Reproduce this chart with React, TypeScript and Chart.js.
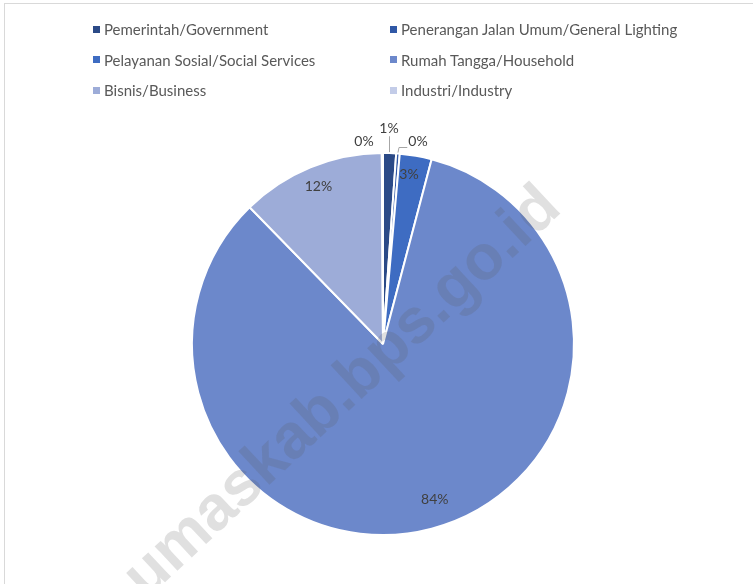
import React, { useEffect, useRef } from "react";
import { Chart, registerables } from "chart.js";

Chart.register(...registerables);

const categories = [
  "Pemerintah/Government",
  "Penerangan Jalan Umum/General Lighting",
  "Pelayanan Sosial/Social Services",
  "Rumah Tangga/Household",
  "Bisnis/Business",
  "Industri/Industry",
];
const shares = [1.1, 0.3, 2.7, 83.6, 12.2, 0.1];
const shareLabels = ["1%", "0%", "3%", "84%", "12%", "0%"];
const sliceColors = ["#2b4a87", "#3058a6", "#3e6cc2", "#6c88cb", "#9dacd8", "#c3cce8"];
const watermarkText = "umaskab.bps.go.id";

// label placement: radius factor, angle shift (deg), leader type
const labelRadius = [1.13, 1.075, 0.9, 0.86, 0.89, 1.065];
const labelShift = [-0.4, 5.3, -1.2, -3.6, 0, -5.2];
const labelLeader = ["v", "elbow", "", "", "", ""];

const FONT = "Lato, 'Open Sans', sans-serif";

const labelPlugin = {
  id: "sliceLabels",
  afterDatasetsDraw(chart: any) {
    const ctx = chart.ctx;
    const meta = chart.getDatasetMeta(0);
    ctx.save();
    ctx.font = `14px ${FONT}`;
    ctx.textAlign = "center";
    ctx.textBaseline = "middle";
    meta.data.forEach((arc: any, i: number) => {
      const p = arc.getProps(["x", "y", "startAngle", "endAngle", "outerRadius"], true);
      const mid = (p.startAngle + p.endAngle) / 2;
      const a = mid + (labelShift[i] * Math.PI) / 180;
      const r = p.outerRadius * labelRadius[i];
      const lx = p.x + Math.cos(a) * r;
      const ly = p.y + Math.sin(a) * r;
      const ex = p.x + Math.cos(mid) * p.outerRadius;
      const ey = p.y + Math.sin(mid) * p.outerRadius;
      const w = ctx.measureText(shareLabels[i]).width;
      ctx.strokeStyle = "#a6a6a6";
      ctx.lineWidth = 1;
      if (labelLeader[i] === "v") {
        ctx.beginPath();
        ctx.moveTo(Math.round(lx) + 0.5, ey - 1);
        ctx.lineTo(Math.round(lx) + 0.5, ly + 8);
        ctx.stroke();
      } else if (labelLeader[i] === "elbow") {
        ctx.beginPath();
        ctx.moveTo(ex, ey - 1);
        ctx.lineTo(ex + 1, Math.round(ly + 5) + 0.5);
        ctx.lineTo(lx - w / 2 - 1, Math.round(ly + 5) + 0.5);
        ctx.stroke();
      }
      ctx.fillStyle = "#404040";
      ctx.fillText(shareLabels[i], lx, ly);
    });
    ctx.restore();
  },
};

const watermarkPlugin = {
  id: "watermark",
  afterDraw(chart: any) {
    const ctx = chart.ctx;
    ctx.save();
    ctx.translate(146, 600);
    ctx.rotate((-43 * Math.PI) / 180);
    ctx.font = `bold 63px 'Liberation Sans', Arial, sans-serif`;
    ctx.fillStyle = "rgba(90,90,90,0.19)";
    ctx.textBaseline = "alphabetic";
    ctx.fillText(watermarkText, 0, 0);
    ctx.restore();
  },
};

export default function App() {
  const canvasRef = useRef<HTMLCanvasElement | null>(null);

  useEffect(() => {
    document.body.style.margin = "0";
    const canvas = canvasRef.current;
    if (!canvas) return;
    const chart = new Chart(canvas, {
      type: "pie",
      data: {
        labels: categories,
        datasets: [
          {
            data: shares,
            backgroundColor: sliceColors,
            borderColor: "#ffffff",
            borderWidth: 2,
          },
        ],
      },
      options: {
        responsive: false,
        animation: false,
        devicePixelRatio: 1,
        layout: { padding: { top: 152, bottom: 48, left: 13, right: 0 } },
        plugins: {
          legend: { display: false },
          tooltip: { enabled: false },
        },
      },
      plugins: [labelPlugin, watermarkPlugin],
    });
    return () => chart.destroy();
  }, []);

  return (
    <div style={{ position: "relative", width: 753, height: 584, overflow: "hidden", background: "#fff" }}>
      <canvas ref={canvasRef} width={753} height={584} style={{ position: "absolute", left: 0, top: 0 }} />
      <div
        style={{
          position: "absolute",
          left: 4,
          top: 3,
          right: -10,
          bottom: -10,
          borderLeft: "1px solid #d9d9d9",
          borderTop: "1px solid #d9d9d9",
          pointerEvents: "none",
        }}
      />
      <div
        style={{
          position: "absolute",
          left: 93,
          top: 14,
          display: "grid",
          gridTemplateColumns: "297px 300px",
          gridAutoRows: "30.5px",
          fontFamily: FONT,
          fontSize: 15,
          color: "#595959",
        }}
      >
        {categories.map((c, i) => (
          <div key={c} style={{ display: "flex", alignItems: "center", whiteSpace: "nowrap" }}>
            <span
              style={{
                display: "inline-block",
                width: 7,
                height: 7,
                background: sliceColors[i],
                marginRight: 4,
              }}
            />
            <span>{c}</span>
          </div>
        ))}
      </div>
    </div>
  );
}
